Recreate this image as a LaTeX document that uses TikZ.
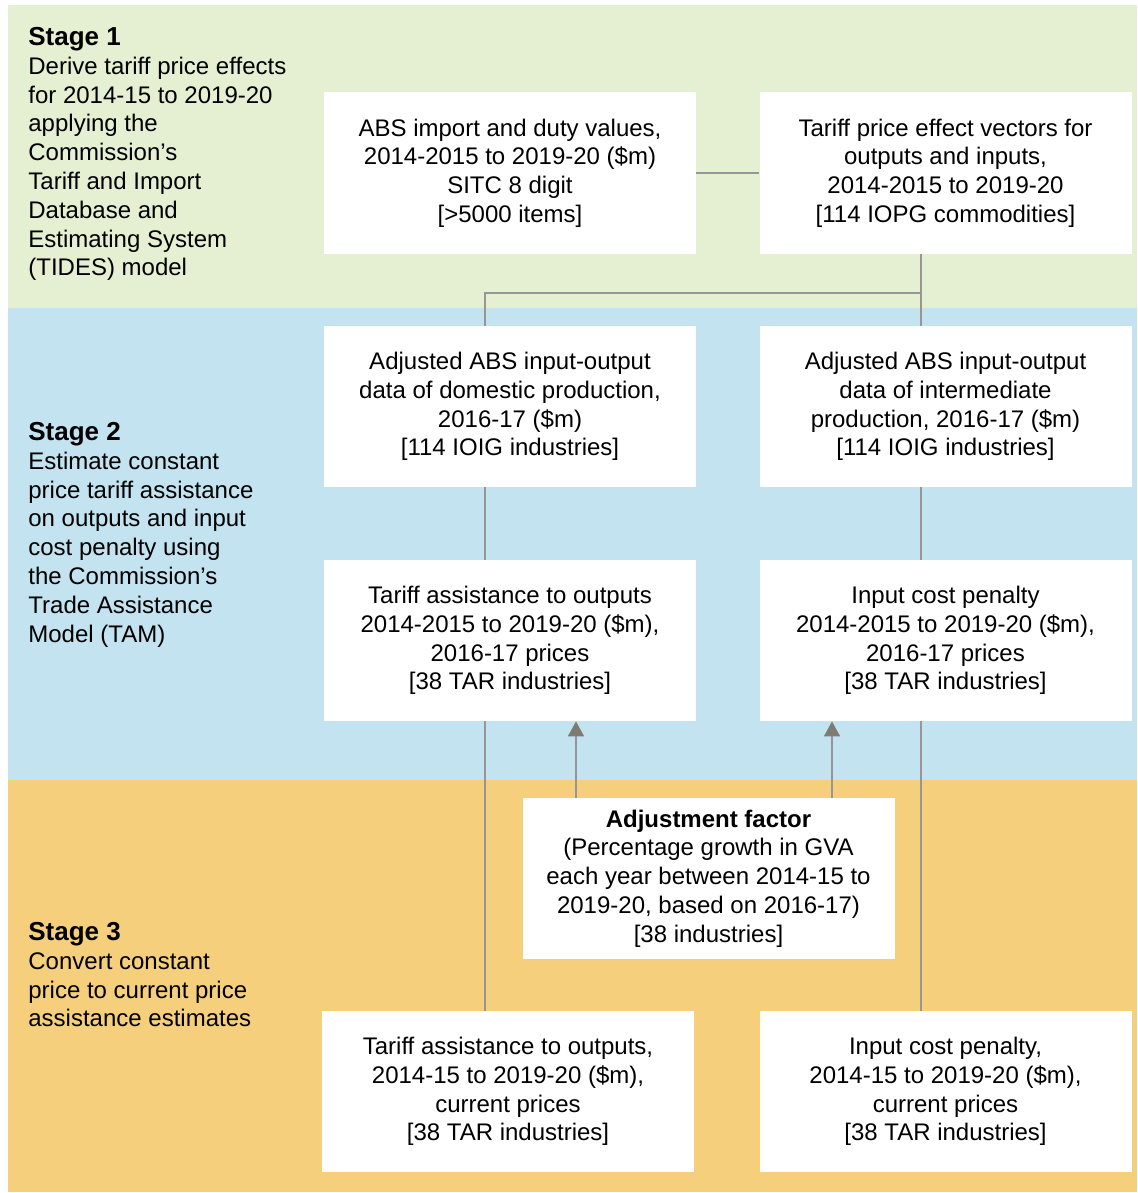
\documentclass[tikz,border=0pt]{standalone}
\usepackage{fontspec}
\setmainfont{Liberation Sans}
\usetikzlibrary{arrows.meta}
\definecolor{stagegreen}{RGB}{229,240,210}
\definecolor{stageblue}{RGB}{194,227,239}
\definecolor{stageorange}{RGB}{246,207,124}
\definecolor{linkgray}{RGB}{150,150,150}
\definecolor{tipgray}{RGB}{128,122,118}
\newcommand{\stagetitle}[1]{{\fontsize{13pt}{14.4pt}\selectfont\textbf{#1}}}
\tikzset{
  txt/.style={font=\fontsize{12pt}{14.4pt}\selectfont},
  databox/.style={txt, fill=white, align=center, inner sep=0pt,
    minimum width=186pt, minimum height=80.5pt},
  stagetext/.style={txt, anchor=north west, inner sep=0pt, align=left},
  link/.style={draw=linkgray, line width=0.75pt},
  uparrow/.style={link, -{Triangle[width=8pt,length=7.5pt,color=tipgray]}}
}
\begin{document}
\begin{tikzpicture}[x=0.5pt,y=-0.5pt]
  \useasboundingbox (0,0) rectangle (1137,1193);
  \foreach \ya/\yb/\c in {5/308/stagegreen, 308/780/stageblue, 780/1192/stageorange}{
    \fill[\c] (8,\ya) rectangle (1137,\yb);
  }
  \node[stagetext] (S1) at (28,27) {\stagetitle{Stage 1}\\Derive tariff price effects\\for 2014-15 to 2019-20\\applying the\\Commission's\\Tariff and Import\\Database and\\Estimating System\\(TIDES) model};
  \node[stagetext] (S2) at (28,422) {\stagetitle{Stage 2}\\Estimate constant\\price tariff assistance\\on outputs and input\\cost penalty using\\the Commission's\\Trade Assistance\\Model (TAM)};
  \node[stagetext] (S3) at (28,922) {\stagetitle{Stage 3}\\Convert constant\\price to current price\\assistance estimates};

  \node[databox] (abs) at (510,173) {ABS import and duty values,\\2014-2015 to 2019-20 (\$m)\\SITC 8 digit\\{[}>5000 items{]}};
  \node[databox] (tpe) at (945.5,173) {Tariff price effect vectors for\\outputs and inputs,\\2014-2015 to 2019-20\\{[}114 IOPG commodities{]}};
  \node[databox] (adom) at (510,406.5) {Adjusted ABS input-output\\data of domestic production,\\2016-17 (\$m)\\{[}114 IOIG industries{]}};
  \node[databox] (aint) at (945.5,406.5) {Adjusted ABS input-output\\data of intermediate\\production, 2016-17 (\$m)\\{[}114 IOIG industries{]}};
  \node[databox] (tout) at (510,640.5) {Tariff assistance to outputs\\2014-2015 to 2019-20 (\$m),\\2016-17 prices\\{[}38 TAR industries{]}};
  \node[databox] (icp) at (945.5,640.5) {Input cost penalty\\2014-2015 to 2019-20 (\$m),\\2016-17 prices\\{[}38 TAR industries{]}};
  \node[databox] (adj) at (708.5,878.5) {\textbf{Adjustment factor}\\(Percentage growth in GVA\\each year between 2014-15 to\\2019-20, based on 2016-17)\\{[}38 industries{]}};
  \node[databox] (toutc) at (508,1091.5) {Tariff assistance to outputs,\\2014-15 to 2019-20 (\$m),\\current prices\\{[}38 TAR industries{]}};
  \node[databox] (icpc) at (945.5,1091.5) {Input cost penalty,\\2014-15 to 2019-20 (\$m),\\current prices\\{[}38 TAR industries{]}};

  \coordinate (L) at (485,0);
  \coordinate (R) at (921,0);
  \coordinate (J) at (921,293);
  \coordinate (A1) at (576,0);
  \coordinate (A2) at (832,0);
  \draw[link] (abs) -- (tpe);
  \draw[link] (tpe.south -| R) -- (aint.north -| R);
  \draw[link] (J) -| (adom.north -| L);
  \foreach \a/\b/\c in {adom/tout/L, tout/toutc/L, aint/icp/R, icp/icpc/R}{
    \draw[link] (\a.south -| \c) -- (\b.north -| \c);
  }
  \foreach \c/\b in {A1/tout, A2/icp}{
    \draw[uparrow] (adj.north -| \c) -- (\b.south -| \c);
  }
\end{tikzpicture}
\end{document}
